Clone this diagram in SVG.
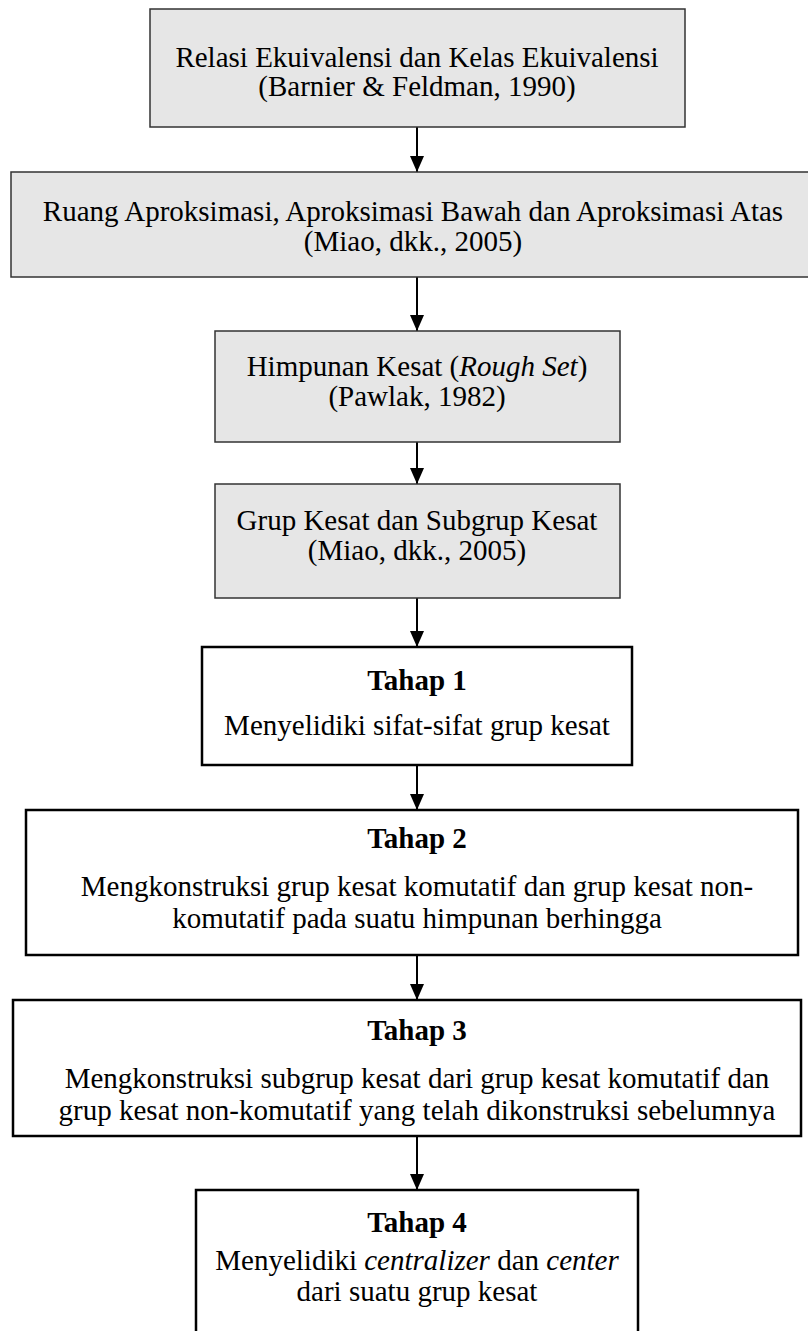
<svg xmlns="http://www.w3.org/2000/svg" width="808" height="1331" viewBox="0 0 808 1331">
<style>
.g{fill:#e6e6e6;stroke:#333;stroke-width:1.5}
.w{fill:#fff;stroke:#000;stroke-width:2.5}
text{font-family:"Liberation Serif","Times New Roman",serif;font-size:29px;fill:#000;text-anchor:middle}
.b{font-weight:bold}
.i{font-style:italic}
.c{stroke:#000;stroke-width:2;fill:none}
</style>
<defs>
<marker id="ah" markerWidth="16" markerHeight="14" refX="16" refY="7" orient="auto" markerUnits="userSpaceOnUse" viewBox="0 0 16 14">
<path d="M0,0 L16,7 L0,14 Z" fill="#000"/>
</marker>
</defs>
<g id="connectors">
<line class="c" x1="417" y1="127" x2="417" y2="172" marker-end="url(#ah)"/>
<line class="c" x1="417" y1="277" x2="417" y2="331" marker-end="url(#ah)"/>
<line class="c" x1="417" y1="442" x2="417" y2="484" marker-end="url(#ah)"/>
<line class="c" x1="417" y1="598" x2="417" y2="647" marker-end="url(#ah)"/>
<line class="c" x1="417" y1="765" x2="417" y2="810" marker-end="url(#ah)"/>
<line class="c" x1="417" y1="955" x2="417" y2="1000" marker-end="url(#ah)"/>
<line class="c" x1="417" y1="1136" x2="417" y2="1190" marker-end="url(#ah)"/>
</g>
<g id="n1">
<rect class="g" x="150" y="9" width="535" height="118"/>
<text x="417" y="67">Relasi Ekuivalensi dan Kelas Ekuivalensi</text>
<text x="417" y="96">(Barnier &amp; Feldman, 1990)</text>
</g>
<g id="n2">
<rect class="g" x="11" y="172" width="812" height="105"/>
<text x="413" y="221">Ruang Aproksimasi, Aproksimasi Bawah dan Aproksimasi Atas</text>
<text x="413" y="251">(Miao, dkk., 2005)</text>
</g>
<g id="n3">
<rect class="g" x="215" y="331" width="405" height="111"/>
<text x="417" y="376">Himpunan Kesat (<tspan class="i">Rough Set</tspan>)</text>
<text x="417" y="406">(Pawlak, 1982)</text>
</g>
<g id="n4">
<rect class="g" x="215" y="484" width="405" height="114"/>
<text x="417" y="530">Grup Kesat dan Subgrup Kesat</text>
<text x="417" y="560">(Miao, dkk., 2005)</text>
</g>
<g id="n5">
<rect class="w" x="202" y="647" width="430" height="118"/>
<text class="b" x="417" y="690">Tahap 1</text>
<text x="417" y="735">Menyelidiki sifat-sifat grup kesat</text>
</g>
<g id="n6">
<rect class="w" x="26" y="810" width="772" height="145"/>
<text class="b" x="417" y="848">Tahap 2</text>
<text x="417" y="896">Mengkonstruksi grup kesat komutatif dan grup kesat non-</text>
<text x="417" y="928">komutatif pada suatu himpunan berhingga</text>
</g>
<g id="n7">
<rect class="w" x="13" y="1000" width="788" height="136"/>
<text class="b" x="417" y="1040">Tahap 3</text>
<text x="417" y="1088">Mengkonstruksi subgrup kesat dari grup kesat komutatif dan</text>
<text x="417" y="1120">grup kesat non-komutatif yang telah dikonstruksi sebelumnya</text>
</g>
<g id="n8">
<rect class="w" x="196" y="1190" width="442" height="152"/>
<text class="b" x="417" y="1232">Tahap 4</text>
<text x="417" y="1270">Menyelidiki <tspan class="i">centralizer</tspan> dan <tspan class="i">center</tspan></text>
<text x="417" y="1301">dari suatu grup kesat</text>
</g>
</svg>
